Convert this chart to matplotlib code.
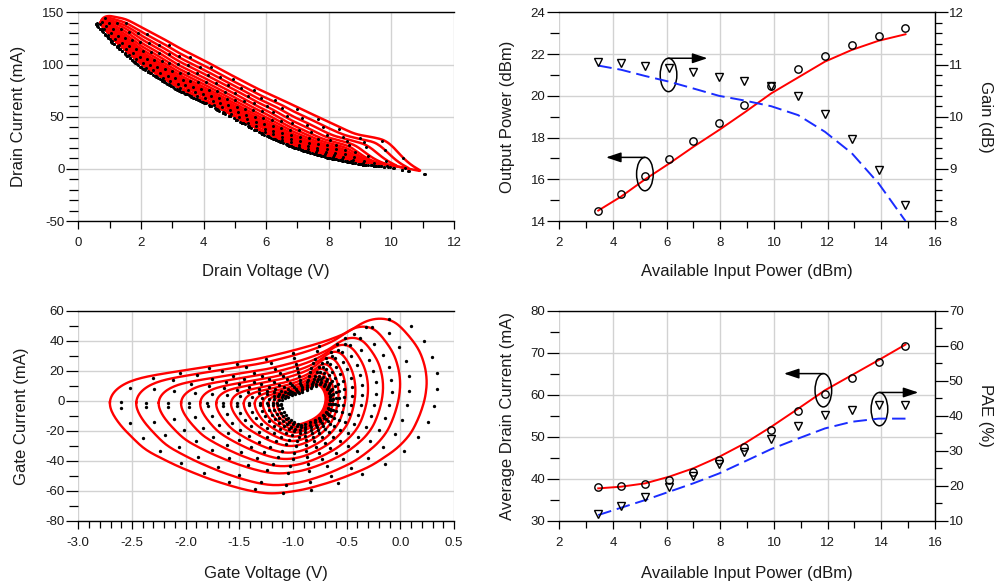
import numpy as np
import matplotlib
matplotlib.use("Agg")
import matplotlib.pyplot as plt

from matplotlib.patches import Ellipse
from matplotlib.ticker import MultipleLocator, FormatStrFormatter

plt.rcParams['font.family'] = ['Liberation Sans', 'DejaVu Sans']
plt.rcParams['axes.unicode_minus'] = False

# ---- power sweep (right panels) ----
pin = [3.45, 4.3, 5.2, 6.1, 7.0, 7.95, 8.9, 9.9, 10.9, 11.9, 12.9, 13.9, 14.9]
pout_meas = [14.50, 15.29, 16.16, 16.99, 17.82, 18.70, 19.58, 20.47, 21.27, 21.92, 22.45, 22.88, 23.23]
pout_sim = [14.5, 15.17, 16.0, 16.76, 17.56, 18.36, 19.2, 20.12, 20.88, 21.64, 22.2, 22.64, 22.95]
gain_meas = [11.05, 11.02, 10.98, 10.93, 10.85, 10.77, 10.68, 10.58, 10.39, 10.06, 9.57, 8.98, 8.31]
gain_sim = [10.98, 10.9, 10.78, 10.67, 10.54, 10.40, 10.31, 10.20, 10.03, 9.71, 9.30, 8.72, 8.0]
idd_meas = [38.1, 38.3, 38.7, 39.8, 41.7, 44.5, 47.6, 51.7, 56.2, 60.2, 64.0, 67.9, 71.6]
idd_sim = [37.7, 38.1, 38.9, 40.5, 42.5, 45.2, 48.4, 52.4, 56.7, 61.1, 64.7, 68.3, 72.0]
pae_meas = [11.8, 14.1, 16.9, 19.7, 22.9, 26.2, 29.7, 33.5, 37.1, 40.1, 41.8, 43.0, 43.2]
pae_sim = [11.6, 13.7, 15.9, 18.3, 20.7, 23.5, 26.9, 30.5, 33.5, 36.4, 38.3, 39.2, 39.2]

# ---- drain load lines (top left) ----
drain_low_v = [0.63, 0.8, 1.16, 2.0, 3.18, 4.25, 5.81, 6.87, 7.93, 9.0, 9.64, 10.0, 10.3, 10.65, 11.02]
drain_low_i = [141, 136, 123.5, 101, 78.7, 62.8, 37.2, 22.8, 13.2, 6.8, 5.0, 3.5, 1.6, -0.5, -2.8]
drain_up_v = [0.63, 0.75, 1.0, 1.5, 2.0, 3.0, 4.0, 5.0, 5.81, 6.87, 8.0, 8.78, 9.32, 9.8, 10.06, 10.38, 10.7, 11.02]
drain_up_i = [141, 145.5, 147.4, 144, 136, 120, 104, 88, 75.5, 61, 45, 34, 30.8, 27.6, 21.2, 10, 2, -2.8]
drain_gap_scale = [0.08, 0.12, 0.16, 0.21, 0.26, 0.32, 0.39, 0.47, 0.56, 0.66, 0.76, 0.87, 1.0]
drain_v_max = [8.9, 9.0, 9.1, 9.2, 9.3, 9.4, 9.5, 9.6, 9.7, 9.9, 10.27, 10.65, 11.02]

# ---- gate loops (bottom left), outer loop traced, inner ones scaled ----
gate_outer_v = [-2.72, -2.68, -2.58, -2.45, -2.27, -1.80, -1.34, -1.03, -0.75, -0.50, -0.375, -0.28, -0.16,
                -0.06, 0.03, 0.12, 0.185, 0.235, 0.25, 0.23, 0.18, 0.10, -0.03, -0.28, -0.59, -0.90, -1.21,
                -1.45, -1.76, -2.07, -2.38, -2.60, -2.69]
gate_outer_i = [-1, 6, 11.5, 15, 17.5, 22.8, 27.7, 33, 38.5, 45, 51.5, 55, 55.8, 54, 47.5, 40, 33, 22, 12, 1,
                -10, -22, -32, -44, -53, -59.5, -62.5, -59.5, -52.8, -43.9, -32.8, -17.2, -8]
gate_center = (-0.93, -2.0)
gate_sx_left = [0.125, 0.145, 0.17, 0.2, 0.242, 0.300, 0.367, 0.445, 0.529, 0.629, 0.746, 0.863, 1.0]
gate_sx_right = [0.2, 0.205, 0.212, 0.225, 0.24, 0.262, 0.302, 0.36, 0.436, 0.536, 0.655, 0.79, 1.0]
gate_sy = [0.235, 0.265, 0.295, 0.325, 0.37, 0.42, 0.475, 0.55, 0.62, 0.70, 0.78, 0.91, 1.0]

RED = '#ff0000'
BLUE = '#1a2cff'
GRID = '#d2d2d2'
TXT = '#1a1a1a'


def smooth_closed(x, y, sigma):
    # gaussian smoothing of a closed curve, done in fourier space
    n = len(x)
    f = np.fft.fftfreq(n) * n
    w = np.exp(-0.5 * (2 * np.pi * f * sigma / n) ** 2)
    xs = np.fft.ifft(np.fft.fft(x) * w).real
    ys = np.fft.ifft(np.fft.fft(y) * w).real
    return xs, ys


def resample_closed(x, y, n, sx=1.0, sy=1.0):
    xc = np.append(x, x[0])
    yc = np.append(y, y[0])
    d = np.hypot(np.diff(xc) / sx, np.diff(yc) / sy)
    s = np.concatenate([[0], np.cumsum(d)])
    t = np.linspace(0, s[-1], n, endpoint=False)
    return np.interp(t, s, xc), np.interp(t, s, yc)


def style_axes(ax):
    for side in ['left', 'right']:
        ax.spines[side].set_visible(False)
    for side in ['top', 'bottom']:
        ax.spines[side].set_color('black')
        ax.spines[side].set_linewidth(1.0)
    ax.grid(True, which='major', color=GRID, lw=1.0)
    ax.set_axisbelow(True)
    ax.tick_params(which='both', direction='out', colors='black', labelcolor=TXT, labelsize=9.5, width=0.9)
    ax.tick_params(axis='y', which='major', length=9, pad=1)
    ax.tick_params(axis='y', which='minor', length=6.5)
    ax.tick_params(axis='x', which='major', length=5.5, pad=6)
    ax.tick_params(axis='x', which='minor', length=5)


def style_twin(ax2):
    for side in ['left', 'top', 'bottom']:
        ax2.spines[side].set_visible(False)
    ax2.spines['right'].set_color('black')
    ax2.spines['right'].set_linewidth(1.0)
    ax2.tick_params(which='both', direction='out', colors='black', labelcolor=TXT, labelsize=9.5, width=0.9)
    ax2.tick_params(axis='y', which='major', length=9, pad=1)
    ax2.tick_params(axis='y', which='minor', length=5)


def loop_note(ax, cx, cy, w, h, x_end):
    ax.add_patch(Ellipse((cx, cy), w, h, fill=False, edgecolor='black', lw=1.1, zorder=5))
    ax.annotate('', xy=(x_end, cy + h / 2), xytext=(cx, cy + h / 2),
                arrowprops=dict(arrowstyle='-|>,head_length=0.9,head_width=0.3', color='black', lw=1.1,
                                mutation_scale=10, shrinkA=0, shrinkB=0), zorder=5)


fig = plt.figure(figsize=(10, 5.88), dpi=100)

# ======================= top left: drain I-V =======================
ax = fig.add_axes([0.0783, 0.6241, 0.3757, 0.3549])
style_axes(ax)
low_v = np.array(drain_low_v)
low_i = np.array(drain_low_i)
up_v = np.array(drain_up_v)
up_i = np.array(drain_up_i)
u_up = (up_v - up_v[0]) / (up_v[-1] - up_v[0])
gap_outer = up_i - np.interp(up_v, low_v, low_i)

for k, (s, vmax) in enumerate(zip(drain_gap_scale, drain_v_max)):
    u = np.linspace(0, 1, 200)
    v = low_v[0] + u * (vmax - low_v[0])
    i_lo = np.interp(v, low_v, low_i)
    i_hi = i_lo + s * np.interp(u, u_up, gap_outer)
    lv = np.concatenate([v, v[::-1][1:-1]])
    li = np.concatenate([i_lo, i_hi[::-1][1:-1]])
    lv, li = smooth_closed(lv, li, 2.5)
    ax.plot(np.append(lv, lv[0]), np.append(li, li[0]), color=RED, lw=1.8, zorder=2)
    # measured samples, staggered from loop to loop
    phase = (k * 0.37) % 1.0
    ud_lo = np.clip((np.arange(22) + phase) / 21.5, 0, 1)
    ud_hi = np.clip((np.arange(16) + phase) / 15.5, 0, 1)
    vd_lo = low_v[0] + ud_lo * (vmax - low_v[0])
    vd_hi = low_v[0] + ud_hi * (vmax - low_v[0])
    id_lo = np.interp(vd_lo, low_v, low_i)
    id_hi = np.interp(vd_hi, low_v, low_i) + s * np.interp(ud_hi, u_up, gap_outer)
    vd = 6 + (np.concatenate([vd_lo, vd_hi]) - 6) * 1.015
    ax.plot(vd, np.concatenate([id_lo, id_hi]) - 2.5, 'o', color='black', ms=2.2, mew=0, zorder=3)

ax.set_xlim(0, 12)
ax.set_ylim(-50, 150)
ax.xaxis.set_major_locator(MultipleLocator(2))
ax.xaxis.set_minor_locator(MultipleLocator(1))
ax.yaxis.set_major_locator(MultipleLocator(50))
ax.yaxis.set_minor_locator(MultipleLocator(10))
ax.set_xlabel('Drain Voltage (V)', fontsize=12, color=TXT)
ax.set_ylabel('Drain Current (mA)', fontsize=12, color=TXT)
ax.xaxis.set_label_coords(0.5, -0.205)
ax.yaxis.set_label_coords(-0.139, 0.5)

# ======================= top right: Pout / gain =======================
ax = fig.add_axes([0.5593, 0.6241, 0.3757, 0.3549])
style_axes(ax)
ax2 = ax.twinx()
style_twin(ax2)
ax.plot(pin, pout_sim, color=RED, lw=1.4, zorder=3)
ax.plot(pin, pout_meas, 'o', mfc='none', mec='black', ms=5.3, mew=1.0, zorder=4)
ax2.plot(pin, gain_sim, color=BLUE, lw=1.4, ls=(0, (7, 3)))
ax2.plot(pin, gain_meas, 'v', mfc='none', mec='black', ms=5.3, mew=1.0)
loop_note(ax, 5.19, 16.25, 0.62, 1.6, 3.74)
loop_note(ax, 6.07, 21.0, 0.62, 1.6, 7.52)
ax.set_xlim(2, 16)
ax.set_ylim(14, 24)
ax2.set_ylim(8, 12)
ax.xaxis.set_major_locator(MultipleLocator(2))
ax.xaxis.set_minor_locator(MultipleLocator(1))
ax.yaxis.set_major_locator(MultipleLocator(2))
ax.yaxis.set_minor_locator(MultipleLocator(1))
ax2.yaxis.set_major_locator(MultipleLocator(1))
ax2.yaxis.set_minor_locator(MultipleLocator(0.2))
ax.set_xlabel('Available Input Power (dBm)', fontsize=12, color=TXT)
ax.set_ylabel('Output Power (dBm)', fontsize=12, color=TXT)
ax2.set_ylabel('Gain (dB)', fontsize=12, color=TXT, rotation=270, va='bottom')
ax.xaxis.set_label_coords(0.5, -0.205)
ax.yaxis.set_label_coords(-0.118, 0.5)
ax2.yaxis.set_label_coords(1.114, 0.5)

# ======================= bottom left: gate loops =======================
ax = fig.add_axes([0.0783, 0.1145, 0.3757, 0.3566])
style_axes(ax)
tv, ti = resample_closed(np.array(gate_outer_v), np.array(gate_outer_i), 300, sx=3.0, sy=120.0)
rv = tv - gate_center[0]
ri = ti - gate_center[1]
for sxl, sxr, sy in zip(gate_sx_left, gate_sx_right, gate_sy):
    gv = gate_center[0] + np.where(rv < 0, rv * sxl, rv * sxr)
    gi = gate_center[1] + ri * sy
    gv, gi = smooth_closed(gv, gi, 3 + 3 * (1 - sxl))
    ax.plot(np.append(gv, gv[0]), np.append(gi, gi[0]), color=RED, lw=1.7, zorder=2)
    idx = np.arange(0, 300, 9)
    ax.plot(gv[idx] + 0.03 + 0.07 * sxl, gi[idx], 'o', color='black', ms=2.4, mew=0, zorder=3)

ax.set_xlim(-3.0, 0.5)
ax.set_ylim(-80, 60)
ax.xaxis.set_major_locator(MultipleLocator(0.5))
ax.xaxis.set_minor_locator(MultipleLocator(0.1))
ax.xaxis.set_major_formatter(FormatStrFormatter('%.1f'))
ax.yaxis.set_major_locator(MultipleLocator(20))
ax.yaxis.set_minor_locator(MultipleLocator(10))
ax.set_xlabel('Gate Voltage (V)', fontsize=12, color=TXT)
ax.set_ylabel('Gate Current (mA)', fontsize=12, color=TXT)
ax.xaxis.set_label_coords(0.5, -0.215)
ax.yaxis.set_label_coords(-0.131, 0.5)

# ======================= bottom right: Idd / PAE =======================
ax = fig.add_axes([0.5593, 0.1145, 0.3757, 0.3566])
style_axes(ax)
ax2 = ax.twinx()
style_twin(ax2)
ax.plot(pin, idd_sim, color=RED, lw=1.4, zorder=3)
ax.plot(pin, idd_meas, 'o', mfc='none', mec='black', ms=5.3, mew=1.0, zorder=4)
ax2.plot(pin, pae_sim, color=BLUE, lw=1.4, ls=(0, (7, 3)))
ax2.plot(pin, pae_meas, 'v', mfc='none', mec='black', ms=5.3, mew=1.0)
loop_note(ax, 11.84, 61.1, 0.62, 7.94, 10.37)
loop_note(ax, 13.93, 56.6, 0.62, 7.94, 15.38)
ax.set_xlim(2, 16)
ax.set_ylim(30, 80)
ax2.set_ylim(10, 70)
ax.xaxis.set_major_locator(MultipleLocator(2))
ax.xaxis.set_minor_locator(MultipleLocator(1))
ax.yaxis.set_major_locator(MultipleLocator(10))
ax.yaxis.set_minor_locator(MultipleLocator(5))
ax2.yaxis.set_major_locator(MultipleLocator(10))
ax2.yaxis.set_minor_locator(MultipleLocator(5))
ax.set_xlabel('Available Input Power (dBm)', fontsize=12, color=TXT)
ax.set_ylabel('Average Drain Current (mA)', fontsize=12, color=TXT)
ax2.set_ylabel('PAE (%)', fontsize=12, color=TXT, rotation=270, va='bottom')
ax.xaxis.set_label_coords(0.5, -0.215)
ax.yaxis.set_label_coords(-0.118, 0.5)
ax2.yaxis.set_label_coords(1.114, 0.5)

fig.savefig('out.png', dpi=100)
plt.close()
